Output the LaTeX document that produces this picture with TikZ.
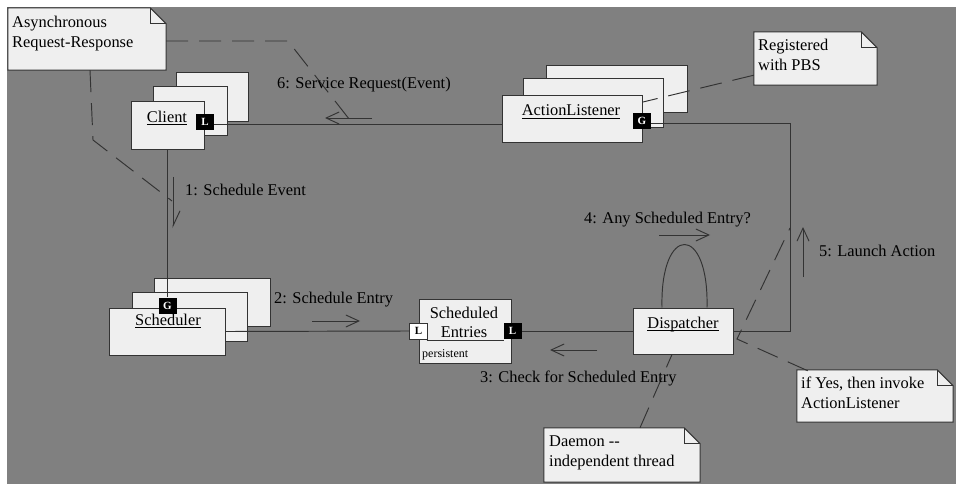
\documentclass[tikz,border=0pt]{standalone}
\usepackage{fontspec}
\setmainfont{Liberation Serif}
\usetikzlibrary{arrows.meta,calc}

\definecolor{canvas}{HTML}{808080}
\definecolor{paper}{HTML}{EFEFEF}
\definecolor{ink}{HTML}{333333}

% underlined object name, rule at a fixed depth below the baseline
\newcommand\objname[1]{\setbox0\hbox{#1}\rlap{\rule[-2.6pt]{\wd0}{0.9pt}}#1}

\tikzset{
  obj/.style={draw=ink, fill=paper, line width=1pt, inner sep=0pt},
  objtitle/.style={anchor=base, inner sep=0pt, text=black, font=\fontsize{16.4}{20}\selectfont},
  badge/.style={fill=black, text=white, inner sep=0pt, minimum width=18pt, minimum height=16pt,
                font=\fontsize{11}{11}\selectfont\bfseries},
  wbadge/.style={badge, fill=white, draw=ink, line width=1pt, text=black},
  notearea/.style={inner sep=0pt},
  noteline/.style={draw=ink, fill=paper, line width=1pt, line join=miter},
  notetext/.style={anchor=north west, inner sep=0pt, align=left, text=black,
                   font=\fontsize{16.4}{19.5}\selectfont},
  msgtext/.style={anchor=base west, inner sep=0pt, text=black, font=\fontsize{16.4}{20}\selectfont},
  link/.style={draw=ink, line width=0.95pt},
  attach/.style={draw=ink, line width=0.95pt, dash pattern=on 22pt off 11pt},
  msg/.style={draw=ink, line width=0.95pt, -{Straight Barb[length=13pt,width=12pt,line width=0.95pt]}},
  halfmsg/.style={draw=ink, line width=0.95pt, -{Straight Barb[length=15pt,width=14pt,line width=0.95pt,left]}},
}

% note with a folded top-right corner, drawn around a named area node
\newcommand\notefold[1]{%
  \path[noteline] (#1.north west) -- ([xshift=-16pt]#1.north east) -- ([yshift=-16pt]#1.north east)
     -- (#1.south east) -- (#1.south west) -- cycle;
  \draw[ink, line width=1pt] ([xshift=-16pt]#1.north east) -- ([xshift=-16pt,yshift=-16pt]#1.north east)
     -- ([yshift=-16pt]#1.north east);}

\begin{document}
\begin{tikzpicture}[x=1pt,y=-1pt]
  % canvas
  \fill[white] (0,0) rectangle (956,484);
  \fill[canvas] (7,7) rectangle (956,484);
  \useasboundingbox (0,0) rectangle (956,484);

  % ---- stacked objects (back, middle, front) ----
  \node[obj, minimum width=72pt,  minimum height=49pt] (clientC) at (212,97.5) {};
  \node[obj, minimum width=74pt,  minimum height=49pt] (clientB) at (190,111.5) {};
  \node[obj, minimum width=73pt,  minimum height=48pt] (client)  at (167.5,126) {};
  \node[objtitle] (clientname) at (167,122.5) {\objname{Client}};

  \node[obj, minimum width=141pt, minimum height=47pt] (alC) at (616.5,89.5) {};
  \node[obj, minimum width=140pt, minimum height=49pt] (alB) at (593,103.5) {};
  \node[obj, minimum width=140pt, minimum height=47pt] (al)  at (572,119.5) {};
  \node[objtitle] (alname) at (571,116) {\objname{ActionListener}};

  \node[obj, minimum width=116pt, minimum height=48pt] (schC) at (212,302) {};
  \node[obj, minimum width=115pt, minimum height=49pt] (schB) at (189.5,316.5) {};
  \node[obj, minimum width=116pt, minimum height=47pt] (sch)  at (167,331.5) {};
  \node[objtitle] (schname) at (168,325.7) {\objname{Scheduler}};

  % ---- single objects ----
  \node[obj, minimum width=92pt, minimum height=64pt] (entries) at (465,331) {};
  \node[objtitle] (entries1) at (464,318) {Scheduled};
  \node[objtitle] (entries2) at (464,337) {Entries};
  \draw[ink, line width=0.9pt] ([xshift=8pt,yshift=-9pt]entries.west) -- ([xshift=-8pt,yshift=-9pt]entries.east);
  \node[anchor=base west, inner sep=0pt, font=\fontsize{12}{12}\selectfont] (persist) at (422,357) {persistent};

  \node[obj, minimum width=100pt, minimum height=46pt] (disp) at (683,331) {};
  \node[objtitle] (dispname) at (683,328) {\objname{Dispatcher}};

  % ---- notes ----
  \node[notearea, minimum width=158pt, minimum height=62pt] (async) at (87,39) {};
  \notefold{async}
  \node[notetext] (asynctext) at (12,16) {Asynchronous\\Request-Response};

  \node[notearea, minimum width=123pt, minimum height=53pt] (reg) at (815.5,58.5) {};
  \notefold{reg}
  \node[notetext] (regtext) at (758,39) {Registered\\with PBS};

  \node[notearea, minimum width=156pt, minimum height=54pt] (daemon) at (622,455) {};
  \notefold{daemon}
  \node[notetext] (daemontext) at (549,436) {Daemon -{}-\\independent thread};

  \node[notearea, minimum width=156pt, minimum height=52pt] (ifyes) at (875,396) {};
  \notefold{ifyes}
  \node[notetext] (ifyestext) at (801,377) {if Yes, then invoke\\ActionListener};

  % ---- ports ----
  \coordinate (turn) at (790,0);
  \node[badge] (clL) at (205,122) {L};
  \node[badge] (alG) at (642,121) {G};
  \node[badge] (schG) at (167.5,305.5) {G};
  \node[wbadge] (entL) at (418.5,331) {L};
  \node[badge] (entR) at (512.5,331) {L};

  % ---- links ----
  \path[link] ([yshift=-2.5pt]clL.east) -- ([yshift=-2.5pt]clL.east -| al.west);
  \path[link] ([yshift=-2pt]alG.east) -- ([yshift=-2pt]alG.east -| turn) -- (disp.east -| turn) -- (disp.east);
  \path[link] (client.south) -- (schG.north);
  \path[link] (sch.east) -- (entL.west);
  \path[link] (entR.east) -- (disp.west);
  \path[link] ([xshift=-21pt]disp.north) .. controls ([xshift=-23pt,yshift=84pt]disp.north)
        and ([xshift=26pt,yshift=84pt]disp.north) .. ([xshift=24pt]disp.north);

  % ports redrawn above the link lines
  \node[badge] at (clL) {L};
  \node[badge] at (alG) {G};
  \node[badge] at (schG) {G};

  % ---- note attachments ----
  \coordinate (asyncbend) at (288,41);
  \coordinate (asyncend)  at (353,124);
  \coordinate (asyncdrop) at (93,140);
  \coordinate (asyncend2) at (172,201);
  \coordinate (regend)    at (643,102);
  \coordinate (ifyesbend) at (737,339);
  \coordinate (ifyesend)  at (790,228);
  \path[attach] ([yshift=-2pt]async.east) -- (asyncbend) -- (asyncend);
  \path[attach] ([xshift=3pt]async.south) -- (asyncdrop) -- (asyncend2);
  \path[attach] ([yshift=10pt]reg.south west) -- (regend);
  \path[attach] ([xshift=18pt]daemon.north) -- ([xshift=-11pt]disp.south);
  \path[attach] ([xshift=11pt,yshift=-1pt]ifyes.north west) -- (ifyesbend) -- (ifyesend);

  % ---- messages ----
  \coordinate (m6a) at (372,118); \coordinate (m6b) at (325,118);
  \coordinate (m1a) at (173,177); \coordinate (m1b) at (173,228);
  \coordinate (m2a) at (312,321); \coordinate (m2b) at (360,321);
  \coordinate (m3a) at (597,350); \coordinate (m3b) at (550,350);
  \coordinate (m4a) at (659,235); \coordinate (m4b) at (710,235);
  \coordinate (m5a) at (803,277); \coordinate (m5b) at (803,227);
  \path[msg] (m6a) -- (m6b);
  \path[halfmsg] (m1a) -- (m1b);
  \path[msg] (m2a) -- (m2b);
  \path[msg] (m3a) -- (m3b);
  \path[msg] (m4a) -- (m4b);
  \path[msg] (m5a) -- (m5b);

  \node[msgtext] (t6) at (277,89)  {6: Service Request(Event)};
  \node[msgtext] (t1) at (185,196) {1: Schedule Event};
  \node[msgtext] (t2) at (274,303) {2: Schedule Entry};
  \node[msgtext] (t3) at (480,382) {3: Check for Scheduled Entry};
  \node[msgtext] (t4) at (584,223) {4: Any Scheduled Entry?};
  \node[msgtext] (t5) at (819,256) {5: Launch Action};
\end{tikzpicture}
\end{document}
